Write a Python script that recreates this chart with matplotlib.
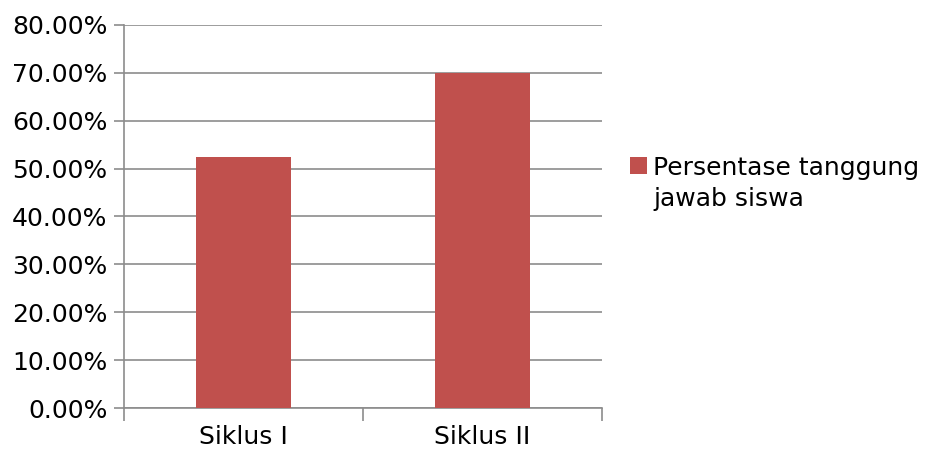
import matplotlib
matplotlib.use("Agg")
import matplotlib.pyplot as plt
from matplotlib.ticker import FuncFormatter, FixedLocator
from matplotlib.patches import Rectangle

categories = ["Siklus I", "Siklus II"]
values = [52.5, 70.0]
series_name = "Persentase tanggung\njawab siswa"
yticks = [0, 10, 20, 30, 40, 50, 60, 70, 80]

W, H = 929, 453
plt.rcParams['font.family'] = ['DejaVu Sans']
fig = plt.figure(figsize=(W/100, H/100), dpi=100)
ax = fig.add_axes([124/W, 45/H, (602-124)/W, (408-25)/H])

bar_color = "#C0504D"
x = list(range(len(categories)))
ax.bar(x, values, width=0.4, color=bar_color, zorder=3)

ax.set_xlim(-0.5, len(categories) - 0.5)
ax.set_ylim(0, 80)
ax.set_yticks(yticks)
ax.yaxis.set_major_formatter(FuncFormatter(lambda v, p: f"{v:.2f}%"))
ax.grid(axis="y", color="#8c8c8c", linewidth=1.2, zorder=0)

ax.set_xticks(x)
ax.set_xticklabels(categories)
ax.xaxis.set_minor_locator(FixedLocator([i - 0.5 for i in range(len(categories) + 1)]))
ax.tick_params(axis="x", which="major", length=0, labelsize=18, pad=12)
ax.tick_params(axis="x", which="minor", length=9, width=1.2, color="#8c8c8c")
ax.tick_params(axis="y", length=7, width=1.2, color="#8c8c8c", labelsize=18, pad=5)

for s in ["top", "right"]:
    ax.spines[s].set_visible(False)
for s in ["left", "bottom"]:
    ax.spines[s].set_color("#8c8c8c")
    ax.spines[s].set_linewidth(1.2)

# legend (square aligned with first line of the wrapped label)
fig.patches.append(Rectangle((630/W, 1 - 174/H), 17/W, 17/H, transform=fig.transFigure,
                             facecolor=bar_color, edgecolor="none"))
fig.text(653/W, 1 - 175/H, series_name.split("\n")[0], fontsize=18, va="baseline", ha="left")
fig.text(653/W, 1 - 206/H, series_name.split("\n")[1], fontsize=18, va="baseline", ha="left")

fig.savefig("out.png", dpi=100)
